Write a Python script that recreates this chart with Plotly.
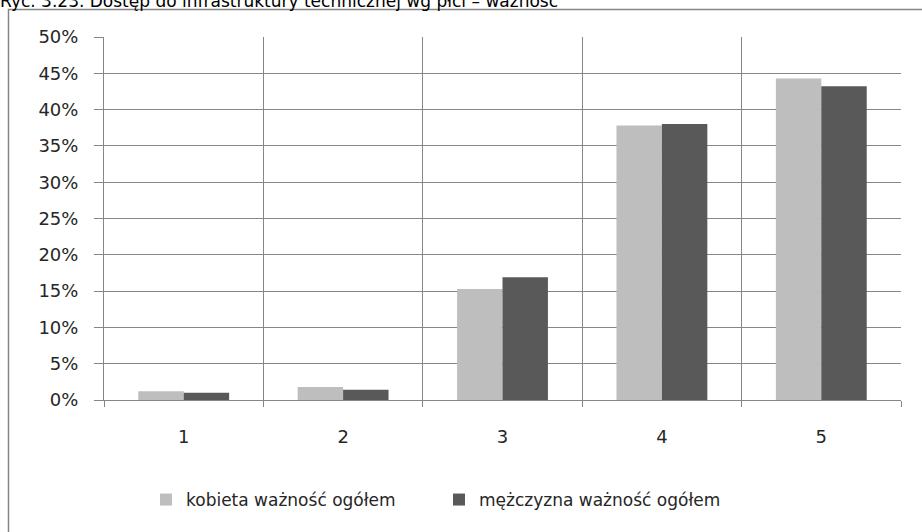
import plotly.graph_objects as go

categories = ['1', '2', '3', '4', '5']
kobieta = [0.012, 0.018, 0.153, 0.378, 0.443]
mezczyzna = [0.010, 0.014, 0.169, 0.380, 0.432]
y_ticks = [0, 0.05, 0.10, 0.15, 0.20, 0.25, 0.30, 0.35, 0.40, 0.45, 0.50]

FONT = 'DejaVu Sans'
GRID = '#868686'
TEXT = '#262626'

# plot area in page pixels: x 104..901, y 37..400
L, R, T, B = 104, 901, 37, 400
W, H = R - L, B - T


def px_x(p):
    return (p - L) / W


def px_y(p):
    return (B - p) / H


fig = go.Figure()
fig.add_trace(go.Bar(x=categories, y=kobieta,
                     name='kobieta ważność ogółem',
                     marker=dict(color='#bebebe', line=dict(width=0))))
fig.add_trace(go.Bar(x=categories, y=mezczyzna,
                     name='mężczyzna ważność ogółem',
                     marker=dict(color='#595959', line=dict(width=0))))

# outer chart frame (runs past the right / bottom edge like the cropped original)
fig.add_shape(type='rect', xref='paper', yref='paper',
              x0=px_x(8.5), x1=px_x(960),
              y0=px_y(600), y1=px_y(9.5),
              line=dict(color=GRID, width=1.5), layer='below')

# caption, cut by the top edge in the original
fig.add_annotation(text='Ryc. 3.23. Dostęp do infrastruktury technicznej wg płci – ważność',
                   xref='paper', yref='paper',
                   x=px_x(-2), y=px_y(13),
                   xanchor='left', yanchor='bottom', showarrow=False,
                   font=dict(family=FONT, size=17, color='#000000'))

fig.update_layout(
    width=922, height=532,
    margin=dict(l=L, r=922 - R, t=T, b=532 - B),
    paper_bgcolor='white', plot_bgcolor='white',
    barmode='group', bargap=0.43, bargroupgap=0,
    font=dict(family=FONT, size=17, color=TEXT),
    legend=dict(orientation='h', x=px_x(146), xanchor='left',
                y=px_y(500), yanchor='middle',
                font=dict(family=FONT, size=17, color=TEXT),
                itemwidth=30, entrywidth=248, entrywidthmode='pixels'),
    showlegend=True,
)
fig.update_xaxes(type='category', tickson='boundaries',
                 showgrid=True, gridcolor=GRID, gridwidth=1,
                 showline=True, linecolor=GRID, linewidth=1,
                 ticks='outside', ticklen=6, tickcolor=GRID,
                 tickfont=dict(size=18),
                 ticklabelstandoff=20, automargin=False)
fig.update_yaxes(range=[0, 0.5], tickvals=y_ticks, tickformat='.0%',
                 showgrid=True, gridcolor=GRID, gridwidth=1,
                 showline=True, linecolor=GRID, linewidth=1,
                 ticks='outside', ticklen=9, tickcolor=GRID,
                 tickfont=dict(size=18),
                 ticklabelstandoff=12, zeroline=False, automargin=False)

fig.write_html('out.html', config={'displayModeBar': False},
               post_script="document.body.style.margin='0';")
